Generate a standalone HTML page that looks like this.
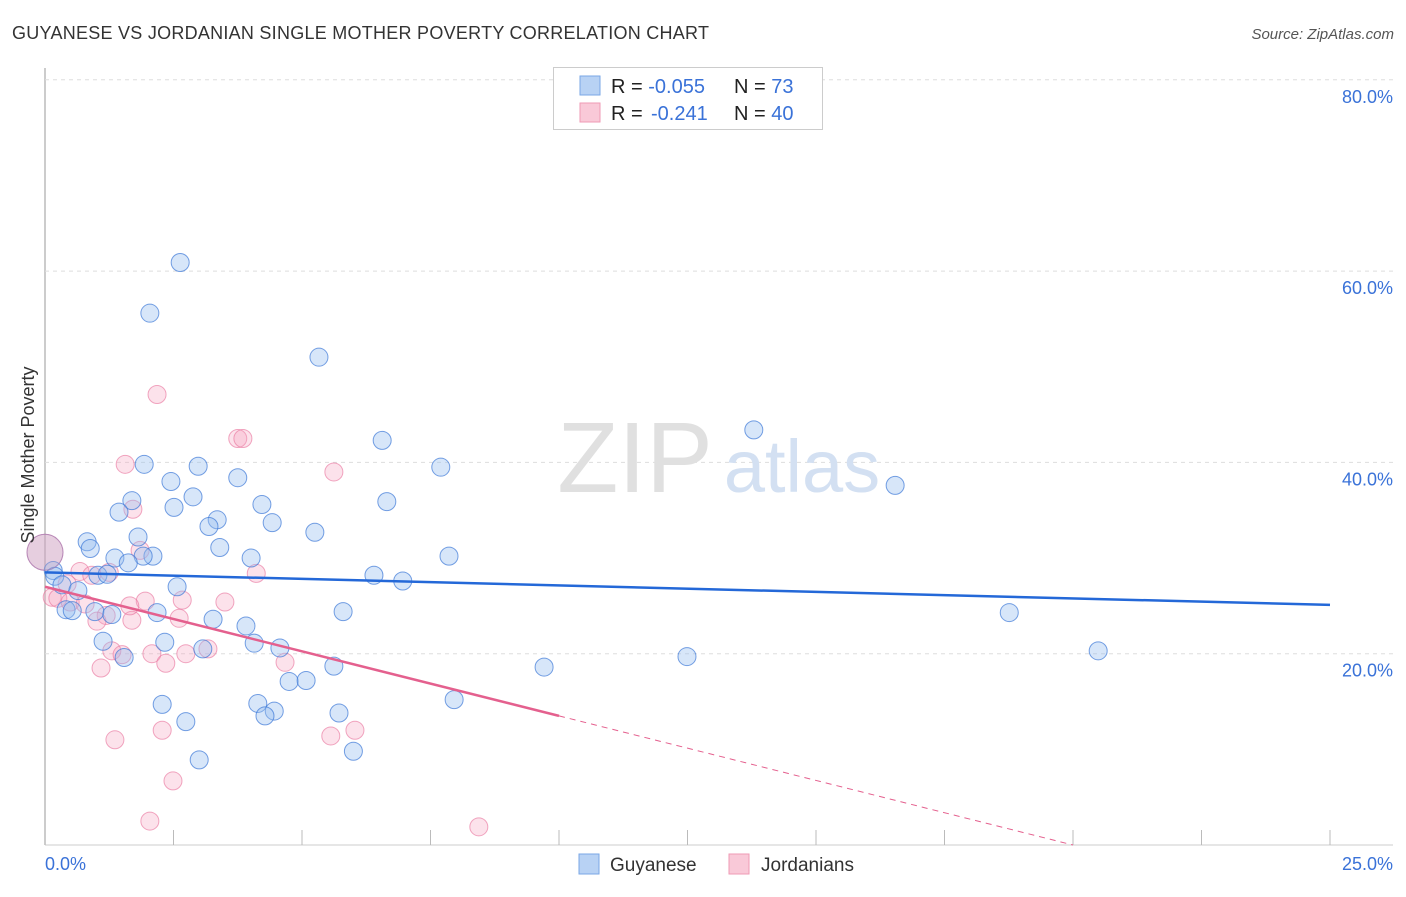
<!DOCTYPE html>
<html><head><meta charset="utf-8">
<style>
body{margin:0;background:#fff;font-family:"Liberation Sans",sans-serif;}
svg text{font-family:"Liberation Sans",sans-serif;}
</style></head>
<body>
<svg width="1406" height="892" xmlns="http://www.w3.org/2000/svg">
<text x="12" y="39" font-size="18" fill="#333" textLength="697">GUYANESE VS JORDANIAN SINGLE MOTHER POVERTY CORRELATION CHART</text>
<text x="1394" y="39" font-size="15" fill="#555" font-style="italic" text-anchor="end">Source: ZipAtlas.com</text>
<g id="grid"></g>
<text x="635" y="492" font-size="100" fill="#e0e0e0" font-family="Liberation Serif" text-anchor="middle">ZIP</text>
<text x="802" y="492" font-size="74" fill="#d3e0f2" text-anchor="middle">atlas</text>
<g id="pts"></g>
<g id="lines"></g>
<text transform="translate(34,455) rotate(-90)" font-size="18" fill="#333" text-anchor="middle">Single Mother Poverty</text>
<text x="45" y="870" font-size="18" fill="#3a72d8">0.0%</text>
<text x="1393" y="870" font-size="18" fill="#3a72d8" text-anchor="end">25.0%</text>
<g>
<rect x="553.5" y="67.5" width="269" height="62" fill="#fff" stroke="#ccc"/>
<rect x="580" y="76" width="20" height="19" fill="#b8d2f4" stroke="#7aa7e6"/>
<rect x="580" y="103" width="20" height="19" fill="#f9c9d8" stroke="#ef9ab5"/>
<text x="611" y="93" font-size="20" fill="#222">R = <tspan fill="#3a72d8">-0.055</tspan><tspan x="734">N = </tspan><tspan fill="#3a72d8">73</tspan></text>
<text x="611" y="120" font-size="20" fill="#222">R = <tspan fill="#3a72d8" x="651">-0.241</tspan><tspan x="734">N = </tspan><tspan fill="#3a72d8">40</tspan></text>
</g>
<g>
<rect x="579" y="854" width="20" height="20" fill="#b8d2f4" stroke="#7aa7e6"/>
<text x="610" y="871" font-size="19" fill="#333">Guyanese</text>
<rect x="729" y="854" width="20" height="20" fill="#f9c9d8" stroke="#ef9ab5"/>
<text x="761" y="871" font-size="19" fill="#333">Jordanians</text>
</g>
</svg>
<script>
const yTicks=[20,40,60,80];
const xTicks=[0,2.5,5,7.5,10,12.5,15,17.5,20,22.5,25];
const blueX=[2.63,2.04,5.33,13.79,6.56,1.93,7.70,2.98,3.75,2.45,16.54,1.69,2.88,6.65,4.22,2.51,1.44,3.35,3.19,4.42,5.25,1.81,0.82,0.88,3.40,1.36,2.10,1.91,4.01,7.86,1.62,0.16,0.19,1.03,1.21,6.40,6.96,0.33,2.57,0.64,0.41,0.53,0.97,1.30,2.18,5.80,18.76,3.27,3.91,2.33,1.13,3.07,4.07,4.57,1.54,12.49,20.49,5.62,9.71,4.75,5.08,2.28,7.96,4.14,4.46,4.28,5.72,2.74,6.00,3.00,0.00];
const blueY=[60.9,55.6,51.0,43.4,42.3,39.8,39.5,39.6,38.4,38.0,37.6,36.0,36.4,35.9,35.6,35.3,34.8,34.0,33.3,33.7,32.7,32.2,31.7,31.0,31.1,30.0,30.2,30.2,30.0,30.2,29.5,28.7,28.1,28.2,28.3,28.2,27.6,27.2,27.0,26.6,24.6,24.5,24.4,24.1,24.3,24.4,24.3,23.6,22.9,21.2,21.3,20.5,21.1,20.6,19.6,19.7,20.3,18.7,18.6,17.1,17.2,14.7,15.2,14.8,14.0,13.5,13.8,12.9,9.8,8.9,30.6];
const pinkX=[2.18,3.75,3.85,5.62,1.56,1.71,1.85,0.68,1.25,4.11,0.14,0.25,0.49,0.78,1.95,2.67,3.50,1.69,1.19,1.01,2.61,1.30,3.17,1.50,2.08,2.74,1.09,2.35,4.67,6.03,5.56,2.28,1.36,2.49,2.04,8.44,0.00,0.43,0.91,1.65];
const pinkY=[47.1,42.5,42.5,39.0,39.8,35.1,30.8,28.6,28.5,28.4,25.9,25.8,25.4,25.2,25.5,25.6,25.4,23.5,24.0,23.4,23.7,20.3,20.5,19.9,20.0,20.0,18.5,19.0,19.1,12.0,11.4,12.0,11.0,6.7,2.5,1.9,30.6,27.3,28.2,25.0];
const blueLine=[0,28.5,25,25.1];
const pinkLine=[0,27.0,10,13.5];
const X=v=>45+v*51.4, Y=v=>845-v*9.565;
const NS='http://www.w3.org/2000/svg';
function mk(t,a,p){const e=document.createElementNS(NS,t);for(const k in a)e.setAttribute(k,a[k]);p.appendChild(e);return e;}
const g=document.getElementById('grid');
const ax=mk('line',{x1:45,y1:68,x2:45,y2:845,stroke:'#bbb','stroke-width':1.5},g);


const xl=mk('line',{x1:45,y1:845,x2:1393,y2:845,stroke:'#ccc'},g);


yTicks.forEach(v=>{
 const l=mk('line',{x1:45,y1:Y(v),x2:1393,y2:Y(v),stroke:'#ddd','stroke-dasharray':'4,4'},g);
 
 
 const t=mk('text',{x:1393,y:Y(v)+23,'font-size':18,fill:'#3a72d8','text-anchor':'end'},g);
 t.textContent=v.toFixed(1)+'%';
 
 
});
xTicks.forEach(v=>{
 const l=mk('line',{x1:X(v),y1:830,x2:X(v),y2:845,stroke:'#bbb'},g);
 
 
});
const P=document.getElementById('pts');
pinkX.forEach((v,i)=>{
 const big=i===36;
 const c=mk('circle',{cx:X(v),cy:Y(pinkY[i]),r:big?18:9,fill:'rgba(244,160,190,0.3)',stroke:'rgba(234,120,160,0.65)','stroke-width':1},P);
 
 
});
blueX.forEach((v,i)=>{
 const big=i===70;
 const c=mk('circle',{cx:X(v),cy:Y(blueY[i]),r:big?18:9,fill:big?'rgba(190,170,200,0.35)':'rgba(150,190,240,0.38)',stroke:big?'rgba(150,120,180,0.6)':'rgba(60,120,215,0.7)','stroke-width':1},P);
 
 
});
const L=document.getElementById('lines');
const bl=mk('line',{x1:X(blueLine[0]),y1:Y(blueLine[1]),x2:X(blueLine[2]),y2:Y(blueLine[3]),stroke:'#2468d8','stroke-width':2.5},L);


const pl=mk('line',{x1:X(pinkLine[0]),y1:Y(pinkLine[1]),x2:X(pinkLine[2]),y2:Y(pinkLine[3]),stroke:'#e4608e','stroke-width':2.5},L);


const slope=(pinkLine[3]-pinkLine[1])/(pinkLine[2]-pinkLine[0]);
const xEnd=-pinkLine[1]/slope;
const pd=mk('line',{x1:X(pinkLine[2]),y1:Y(pinkLine[3]),x2:X(xEnd),y2:Y(0),stroke:'#e4608e','stroke-width':1,'stroke-dasharray':'6,5'},L);


</script>
</body></html>
